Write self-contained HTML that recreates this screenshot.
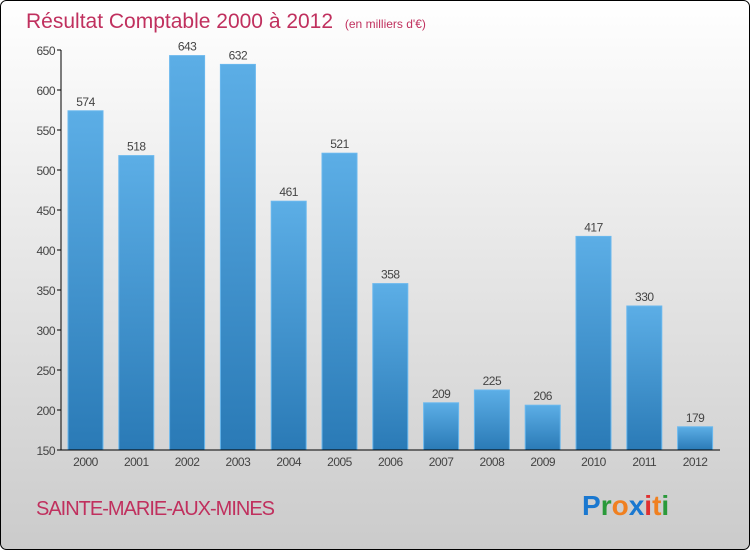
<!DOCTYPE html>
<html><head><meta charset="utf-8"><style>
body{margin:0;width:750px;height:550px;overflow:hidden}
svg{display:block;font-family:"Liberation Sans",sans-serif}
</style></head><body>
<svg id="chart" width="750" height="550">
<defs>
<linearGradient id="bg" x1="0" y1="0" x2="0" y2="1"><stop offset="0" stop-color="#ffffff"/><stop offset="1" stop-color="#cbcbcb"/></linearGradient>
<linearGradient id="bar" x1="0" y1="0" x2="0" y2="1"><stop offset="0" stop-color="#5caee6"/><stop offset="1" stop-color="#2a7ab6"/></linearGradient>
</defs>
<rect x="0.5" y="0.5" width="749" height="549" rx="6" fill="url(#bg)" stroke="#000"/>
<text x="26" y="28" font-size="21" fill="#c0305e">Résultat Comptable 2000 à 2012 <tspan font-size="12" dx="6">(en milliers d'€)</tspan></text>
<g id="yaxis"></g><g id="bars"></g><g id="xaxis"></g>
<line x1="61" y1="50" x2="61" y2="450" stroke="#000"/>
<line x1="61" y1="450" x2="720" y2="450" stroke="#000"/>
<text x="36" y="515" font-size="20" fill="#c0305e" letter-spacing="-1">SAINTE-MARIE-AUX-MINES</text>
<text x="582" y="515" font-size="28" font-weight="bold"><tspan fill="#1a78d0">P</tspan><tspan fill="#2a9a3a">r</tspan><tspan fill="#f08020">o</tspan><tspan fill="#1a78d0">x</tspan><tspan fill="#e03030">i</tspan><tspan fill="#f08020">t</tspan><tspan fill="#2a9a3a">i</tspan></text>
</svg>
<script>
const categories=["2000","2001","2002","2003","2004","2005","2006","2007","2008","2009","2010","2011","2012"];
const values=[574,518,643,632,461,521,358,209,225,206,417,330,179];
const yTicks=[150,200,250,300,350,400,450,500,550,600,650];
const NS="http://www.w3.org/2000/svg";
function y(v){return 450-(v-150)*0.8;}
function x(i){return 85.5+i*50.8;}
function mk(t,a,p,txt){const e=document.createElementNS(NS,t);for(const k in a)e.setAttribute(k,a[k]);if(txt!==undefined)e.textContent=txt;p.appendChild(e);return e;}
const ya=document.getElementById('yaxis'),ba=document.getElementById('bars'),xa=document.getElementById('xaxis');
yTicks.forEach(t=>{
 const l=mk('line',{x1:57,x2:61,y1:y(t),y2:y(t),stroke:'#000'},ya);
 
 
 const tx=mk('text',{x:55,y:y(t)+5,'font-size':12,'text-anchor':'end',fill:'#444','letter-spacing':'-0.5'},ya,t);
 
 
});
values.forEach((v,i)=>{
 const r=mk('rect',{x:x(i)-17.5,y:y(v),width:35,height:450-y(v),fill:'url(#bar)',stroke:'#6ab8ee','stroke-width':1},ba);
 
 
 const lt=mk('text',{x:x(i),y:y(v)-5,'font-size':12,'text-anchor':'middle',fill:'#444','letter-spacing':'-0.5'},ba,v);
 
 
 const xt=mk('text',{x:x(i),y:466,'font-size':12,'text-anchor':'middle',fill:'#444','letter-spacing':'-0.5'},xa,categories[i]);
 
 
});
</script>
</body></html>
